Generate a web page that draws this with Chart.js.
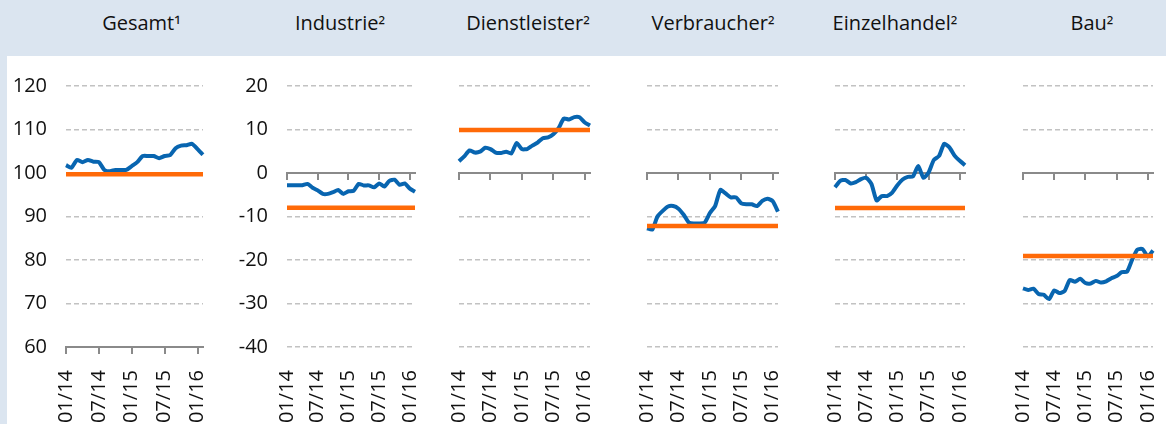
<!DOCTYPE html>
<html><head><meta charset="utf-8">
<script src="https://cdn.jsdelivr.net/npm/chart.js@4"></script>
<style>
html,body{margin:0;padding:0;background:#fff;}
#wrap{position:relative;width:1166px;height:424px;overflow:hidden;background:#fff;font-family:'Open Sans',sans-serif;}
#hdr{position:absolute;left:0;top:0;width:1166px;height:56px;background:#dbe5f0;}
#strip{position:absolute;left:0;top:0;width:7px;height:424px;background:#dbe5f0;}
.t{position:absolute;top:13px;width:220px;margin-left:-110px;text-align:center;font-size:20px;line-height:20px;color:#111;white-space:nowrap;}
.t span{font-size:19px;position:relative;top:2px;}
canvas{position:absolute;top:56px;}
</style></head><body>
<div id="wrap"><div id="hdr"></div><div id="strip"></div></div>
<script>
// ---------- data ----------
const months = ['01/14','02/14','03/14','04/14','05/14','06/14','07/14','08/14','09/14','10/14','11/14','12/14',
                '01/15','02/15','03/15','04/15','05/15','06/15','07/15','08/15','09/15','10/15','11/15','12/15',
                '01/16','02/16'];
const tickLabels = ['01/14','07/14','01/15','07/15','01/16'];
const titles = ['Gesamt','Industrie','Dienstleister','Verbraucher','Einzelhandel','Bau'];
const footnotes = ['¹','²','²','²','²','²'];
const gesamt = [101.8,101.2,103.0,102.5,103.0,102.6,102.5,100.7,100.4,100.7,100.7,100.7,101.6,102.5,103.9,103.9,103.9,103.4,103.9,104.1,105.7,106.3,106.4,106.7,105.5,104.2];
const industrie = [-2.8,-2.8,-2.8,-2.8,-2.5,-3.4,-4.0,-4.8,-4.8,-4.4,-3.9,-4.8,-4.2,-4.1,-2.5,-2.85,-2.85,-3.3,-2.4,-3.1,-1.8,-1.55,-2.7,-2.4,-3.6,-4.3];
const dienstleister = [2.7,3.8,5.2,4.7,4.9,5.8,5.5,4.7,4.6,4.9,4.5,6.9,5.5,5.5,6.3,7.0,8.0,8.2,8.9,10.3,12.5,12.3,12.85,12.8,11.6,10.9];
const verbraucher = [-12.7,-13.0,-10.0,-8.7,-7.7,-7.6,-8.2,-9.6,-11.4,-11.6,-11.6,-11.4,-9.2,-7.6,-3.9,-4.7,-5.6,-5.6,-7.0,-7.2,-7.2,-7.6,-6.4,-5.9,-6.5,-8.9];
const einzelhandel = [-3.3,-1.8,-1.6,-2.4,-2.1,-1.4,-1.1,-2.5,-6.3,-5.3,-5.3,-4.5,-2.8,-1.5,-0.9,-0.8,1.6,-1.1,0.1,3.0,3.9,6.7,5.9,4.0,2.8,1.8];
const bau = [-26.5,-26.9,-26.6,-27.8,-28.0,-29.0,-27.0,-27.6,-27.1,-24.6,-25.0,-24.3,-25.3,-25.4,-24.8,-25.2,-24.9,-24.2,-23.7,-22.8,-22.7,-19.9,-17.6,-17.5,-19.2,-17.8];
const averages = [99.7,-8.0,9.9,-12.2,-8.05,-19.1];
const yMins = [60,-40,-40,-40,-40,-40];
const yMaxs = [120,20,20,20,20,20];
const yStep = 10;
const baseValues = [60,0,0,0,0,0];
const series = [gesamt,industrie,dienstleister,verbraucher,einzelhandel,bau];

// ---------- layout ----------
const plotLeft  = [66, 287, 459, 647, 835, 1023];
const plotRight = [202.7, 414.8, 590.3, 778.3, 965.2, 1153.2];
const titleCenter = [141.5, 340, 528, 713, 895, 1092];
const showYLabels = [true, true, false, false, false, false];
const BLUE = '#0865b0', ORANGE = '#ff6a08', GRID = '#c2c2c2', AXIS = '#8a8a8a';

Chart.defaults.font.family = "'Open Sans', sans-serif";
Chart.defaults.font.size = 20;
Chart.defaults.color = '#111';

const wrap = document.getElementById('wrap');
titles.forEach((t, i) => {
  const d = document.createElement('div');
  d.className = 't';
  d.style.left = titleCenter[i] + 'px';
  d.appendChild(document.createTextNode(t));
  const s = document.createElement('span');
  s.textContent = footnotes[i];
  d.appendChild(s);
  wrap.appendChild(d);
});

const filterTicks = s => { s.ticks = s.ticks.filter(t => tickLabels.includes(months[t.value])); };
const LEFT = 60, RIGHT = 20, TOP = 30, XH = 77, H = 368;

series.forEach((vals, i) => {
  const cv = document.createElement('canvas');
  const left = Math.round(plotLeft[i]) - LEFT;
  const w = Math.round(plotRight[i] - plotLeft[i]) + LEFT + RIGHT;
  cv.width = w; cv.height = H;
  cv.style.left = left + 'px';
  cv.style.width = w + 'px'; cv.style.height = H + 'px';
  wrap.appendChild(cv);
  new Chart(cv, {
    type: 'line',
    data: {
      labels: months,
      datasets: [
        { data: months.map(() => averages[i]), borderColor: ORANGE, borderWidth: 4.5, pointRadius: 0, tension: 0, clip: false, borderCapStyle: 'butt' },
        { data: vals, borderColor: BLUE, borderWidth: 4, pointRadius: 0, tension: 0.2, clip: false, borderJoinStyle: 'round' }
      ]
    },
    options: {
      responsive: false, animation: false, events: [],
      layout: { padding: { top: TOP, right: RIGHT, left: 0, bottom: 0 } },
      plugins: { legend: { display: false }, tooltip: { enabled: false } },
      scales: {
        x: {
          type: 'category', position: 'bottom',
          grid: { display: false }, border: { display: false },
          ticks: { autoSkip: false, minRotation: 90, maxRotation: 90, padding: 15, color: '#111' },
          afterBuildTicks: filterTicks,
          afterFit: s => { s.height = XH; s.paddingLeft = 0; s.paddingRight = 0; s.paddingTop = 0; s.paddingBottom = 0; }
        },
        x2: {
          type: 'category', axis: 'x', position: { y: baseValues[i] },
          grid: { display: true, drawOnChartArea: false, drawTicks: true, tickLength: 6, color: AXIS, lineWidth: 2 },
          border: { display: true, color: AXIS, width: 2 },
          ticks: { display: false, autoSkip: false },
          afterBuildTicks: filterTicks
        },
        y: {
          min: yMins[i], max: yMaxs[i],
          ticks: { stepSize: yStep, display: showYLabels[i], padding: 19, color: '#111' },
          grid: { drawTicks: false, color: GRID, lineWidth: 1.5 },
          border: { display: false, dash: [5, 3] },
          afterFit: s => { s.width = LEFT; s.paddingTop = 0; s.paddingBottom = 0; }
        }
      }
    }
  });
});
</script>
</body></html>
